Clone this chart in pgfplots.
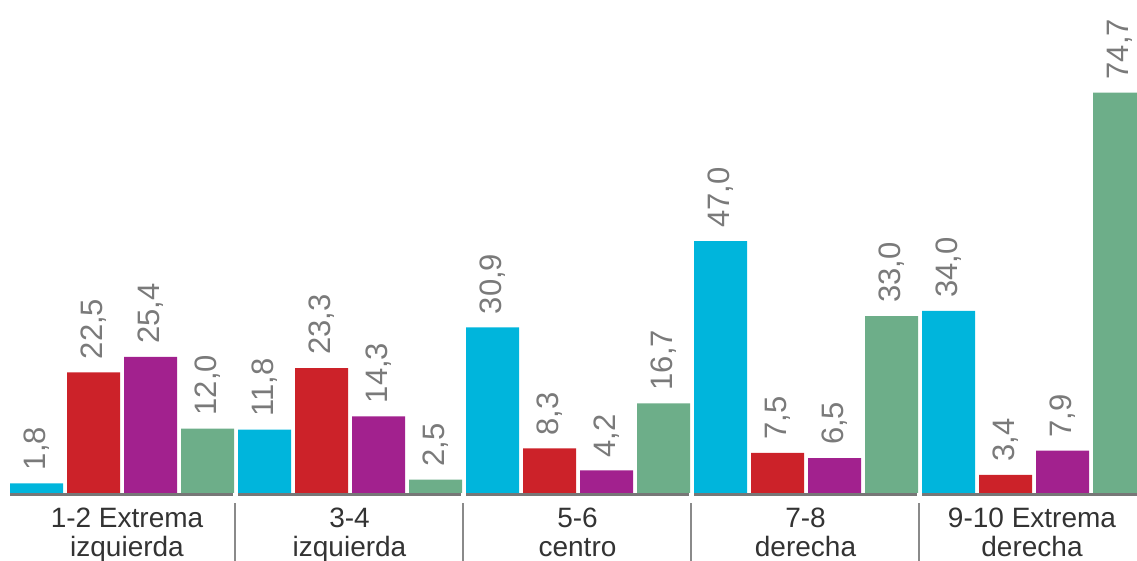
\documentclass[border=0pt]{standalone}
\usepackage{pgfplots}
\pgfplotsset{compat=1.18}
\usepackage{fontspec}
\setmainfont{Liberation Sans}
\definecolor{ccyan}{HTML}{00B5DC}
\definecolor{cred}{HTML}{CC2229}
\definecolor{cpurp}{HTML}{A2218E}
\definecolor{cgreen}{HTML}{6DAE89}
\definecolor{lblgray}{HTML}{7A7A7A}
\definecolor{basegray}{HTML}{777777}
\definecolor{sepgray}{HTML}{8A8A8A}
\definecolor{txt}{HTML}{333333}
\begin{document}
\begin{tikzpicture}
\begin{axis}[
  name=ax,
  scale only axis,
  width=1137pt, height=561pt,
  xmin=0, xmax=1137,
  ymin=-12.69, ymax=91.98,
  hide axis,
  clip=true,
  nodes near coords,
  nodes near coords style={
    rotate=90, anchor=west, inner xsep=13pt, inner ysep=0pt,
    font=\fontsize{31}{31}\selectfont, text=lblgray,
    /pgf/number format/.cd, fixed, fixed zerofill, precision=1, use comma, assume math mode=true
  },
]
\addplot[ybar, bar width=53, bar shift=0pt, fill=ccyan, draw=none] coordinates {
 (36.5,1.8) (264.5,11.8) (492.5,30.9) (720.5,47.0) (948.5,34.0)};
\addplot[ybar, bar width=53, bar shift=0pt, fill=cred, draw=none] coordinates {
 (93.5,22.5) (321.5,23.3) (549.5,8.3) (777.5,7.5) (1005.5,3.4)};
\addplot[ybar, bar width=53, bar shift=0pt, fill=cpurp, draw=none] coordinates {
 (150.5,25.4) (378.5,14.3) (606.5,4.2) (834.5,6.5) (1062.5,7.9)};
\addplot[ybar, bar width=53, bar shift=0pt, fill=cgreen, draw=none] coordinates {
 (207.5,12.0) (435.5,2.5) (663.5,16.7) (891.5,33.0) (1119.5,74.7)};
% baselines per group
\foreach \a/\b in {10/233, 238/461, 466/689, 694/917, 922/1140} {
  \edef\tmp{\noexpand\draw[basegray, line width=3pt] (axis cs:\a,-0.3) -- (axis cs:\b,-0.3);}
  \tmp
}
% separators
\foreach \s in {235, 463, 691, 919} {
  \edef\tmp{\noexpand\draw[sepgray, line width=1.5pt] (axis cs:\s,-1.87) -- (axis cs:\s,-13);}
  \tmp
}
% category labels
\def\cf{\fontsize{28}{28}\selectfont}
\node[anchor=base, text=txt, font=\cf, inner sep=0pt] at (axis cs:127,-6.53) {1-2 Extrema};
\node[anchor=base, text=txt, font=\cf, inner sep=0pt] at (axis cs:127,-11.94) {izquierda};
\node[anchor=base, text=txt, font=\cf, inner sep=0pt] at (axis cs:349.5,-6.53) {3-4};
\node[anchor=base, text=txt, font=\cf, inner sep=0pt] at (axis cs:349.5,-11.94) {izquierda};
\node[anchor=base, text=txt, font=\cf, inner sep=0pt] at (axis cs:577.5,-6.53) {5-6};
\node[anchor=base, text=txt, font=\cf, inner sep=0pt] at (axis cs:577.5,-11.94) {centro};
\node[anchor=base, text=txt, font=\cf, inner sep=0pt] at (axis cs:805.5,-6.53) {7-8};
\node[anchor=base, text=txt, font=\cf, inner sep=0pt] at (axis cs:805.5,-11.94) {derecha};
\node[anchor=base, text=txt, font=\cf, inner sep=0pt] at (axis cs:1032,-6.53) {9-10 Extrema};
\node[anchor=base, text=txt, font=\cf, inner sep=0pt] at (axis cs:1032,-11.94) {derecha};
\end{axis}
\pgfresetboundingbox
\path (ax.south west) rectangle (ax.north east);
\end{tikzpicture}
\end{document}
